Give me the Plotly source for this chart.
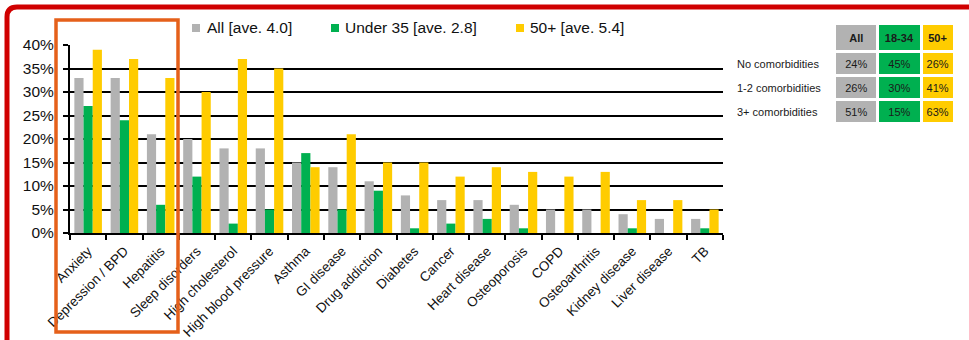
import plotly.graph_objects as go

# --- data -------------------------------------------------------------------
conditions = [
    "Anxiety", "Depression / BPD", "Hepatitis", "Sleep disorders",
    "High cholesterol", "High blood pressure", "Asthma", "GI disease",
    "Drug addiction", "Diabetes", "Cancer", "Heart disease", "Osteoporosis",
    "COPD", "Osteoarthritis", "Kidney disease", "Liver disease", "TB",
]
all_pct = [33, 33, 21, 20, 18, 18, 15, 14, 11, 8, 7, 7, 6, 5, 5, 4, 3, 3]
under35_pct = [27, 24, 6, 12, 2, 5, 17, 5, 9, 1, 2, 3, 1, 0, 0, 1, 0, 1]
over50_pct = [39, 37, 33, 30, 37, 35, 14, 21, 15, 15, 12, 14, 13, 12, 13, 7, 7, 5]

series_names = ["All [ave. 4.0]", "Under 35 [ave. 2.8]", "50+ [ave. 5.4]"]

table_rows = ["No comorbidities", "1-2 comorbidities", "3+ comorbidities"]
table_heads = ["All", "18-34", "50+"]
table_all = ["24%", "26%", "51%"]
table_1834 = ["45%", "30%", "15%"]
table_50 = ["26%", "41%", "63%"]

# --- styling ----------------------------------------------------------------
W, H = 969, 340
GREY, GREEN, YELLOW = "#b2b2b2", "#00b050", "#ffcc00"
FONT = "Liberation Sans, Arial, sans-serif"


def px(x):
    return x / W


def py(y):
    return 1 - y / H


fig = go.Figure()
for name, vals, col in zip(series_names, [all_pct, under35_pct, over50_pct],
                           [GREY, GREEN, YELLOW]):
    fig.add_trace(go.Bar(x=conditions, y=vals, name=name, marker_color=col,
                         marker_line_width=0, showlegend=False))

# comorbidity summary table
fig.add_trace(go.Table(
    domain=dict(x=[px(729), px(954.5)], y=[py(150), py(23.5)]),
    columnwidth=[106, 43, 43.5, 33],
    header=dict(
        values=[""] + [f"<b>{h}</b>" for h in table_heads],
        fill_color=["white", GREY, GREEN, YELLOW],
        line=dict(color="white", width=3),
        align="center", height=22,
        font=dict(family=FONT, size=11, color="#1a1a1a"),
    ),
    cells=dict(
        values=[table_rows, table_all, table_1834, table_50],
        fill_color=["white", GREY, GREEN, YELLOW],
        line=dict(color="white", width=3),
        align=["left", "center", "center", "center"], height=24,
        font=dict(family=FONT, size=11, color="#1a1a1a"),
    ),
))

shapes = []
annotations = []

# legend drawn as small squares with labels
legend_sq_x = [196, 335, 520]
legend_tx_x = [205, 343, 528]
for name, col, sx, tx in zip(series_names, [GREY, GREEN, YELLOW],
                             legend_sq_x, legend_tx_x):
    shapes.append(dict(type="rect", xref="paper", yref="paper",
                       x0=px(sx - 4), x1=px(sx + 4), y0=py(32), y1=py(24),
                       fillcolor=col, line_width=0))
    annotations.append(dict(text=name, xref="paper", yref="paper",
                            x=px(tx), y=py(27.5), xanchor="left",
                            yanchor="middle", showarrow=False,
                            font=dict(family=FONT, size=15.5, color="#111")))

# red page frame with rounded top-left corner
frame_path = (f"M {px(975)},{py(7)} L {px(17)},{py(7)} "
              f"Q {px(7)},{py(7)} {px(7)},{py(17)} L {px(7)},{py(350)}")
shapes.append(dict(type="path", xref="paper", yref="paper", path=frame_path,
                   line=dict(color="#d00000", width=5)))

# orange highlight box
shapes.append(dict(type="rect", xref="paper", yref="paper",
                   x0=px(56), x1=px(178), y0=py(332), y1=py(20),
                   line=dict(color="#e5601a", width=3.5)))

fig.update_layout(
    width=W, height=H,
    margin=dict(l=0, r=0, t=0, b=0, pad=0, autoexpand=False),
    paper_bgcolor="white", plot_bgcolor="white",
    barmode="group", bargap=0.24, bargroupgap=0,
    font=dict(family=FONT, color="#111"),
    shapes=shapes, annotations=annotations,
    xaxis=dict(
        domain=[px(70), px(723)], type="category", automargin=False,
        tickangle=-45, tickfont=dict(family=FONT, size=13.5, color="#111"),
        ticks="outside", tickson="boundaries", ticklen=5, tickwidth=2,
        tickcolor="black", showline=True, linecolor="black", linewidth=2,
        showgrid=False, ticklabelstandoff=3,
    ),
    yaxis=dict(
        domain=[py(233), py(45)], range=[0, 40], dtick=5, ticksuffix="%",
        automargin=False,
        tickfont=dict(family=FONT, size=15.5, color="#111"),
        ticks="outside", ticklen=5, tickwidth=2, tickcolor="black",
        ticklabelstandoff=6,
        showline=True, linecolor="black", linewidth=2,
        showgrid=True, gridcolor="black", gridwidth=1.5, zeroline=False,
    ),
)

fig.write_html("out.html")
